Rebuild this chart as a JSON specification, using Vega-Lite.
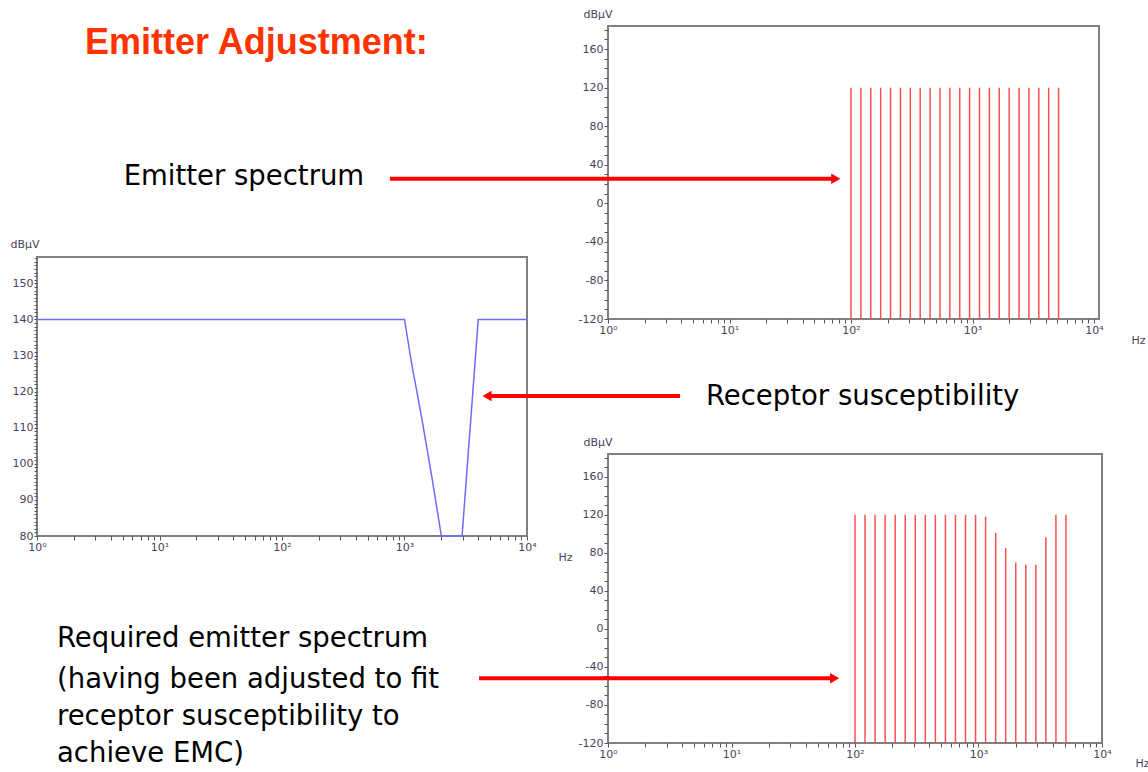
{
  "$schema": "https://vega.github.io/schema/vega-lite/v6.json",
  "background": "white",
  "padding": {"left": 9, "top": 7, "right": 0, "bottom": 0},
  "bounds": "flush",
  "spacing": 571,
  "config": {
    "font": "DejaVu Sans",
    "axis": {
      "domain": false, "grid": false, "tickColor": "#555555", "tickSize": 4, "tickWidth": 1,
      "labelFontSize": 11, "labelColor": "#4a3f5c", "labelPadding": 1,
      "titleFontSize": 11, "titleFontWeight": "normal", "titleColor": "#4a3f5c",
      "labelFlush": false, "labelOverlap": false, "tickCount": 1000
    }
  },
  "datasets": {
    "emitter": [
      {"freq": 100, "level": 120}, {"freq": 120.6, "level": 120}, {"freq": 145.4, "level": 120},
      {"freq": 175.4, "level": 120}, {"freq": 211.5, "level": 120}, {"freq": 255.1, "level": 120},
      {"freq": 307.7, "level": 120}, {"freq": 371.0, "level": 120}, {"freq": 447.5, "level": 120},
      {"freq": 539.7, "level": 120}, {"freq": 650.8, "level": 120}, {"freq": 784.9, "level": 120},
      {"freq": 946.6, "level": 120}, {"freq": 1141.6, "level": 120}, {"freq": 1376.8, "level": 120},
      {"freq": 1660.4, "level": 120}, {"freq": 2002.4, "level": 120}, {"freq": 2414.9, "level": 120},
      {"freq": 2912.4, "level": 120}, {"freq": 3512.4, "level": 120}, {"freq": 4235.9, "level": 120},
      {"freq": 5108.5, "level": 120}
    ],
    "adjusted": [
      {"freq": 100, "level": 120}, {"freq": 120.6, "level": 120}, {"freq": 145.4, "level": 120},
      {"freq": 175.4, "level": 120}, {"freq": 211.5, "level": 120}, {"freq": 255.1, "level": 120},
      {"freq": 307.7, "level": 120}, {"freq": 371.0, "level": 120}, {"freq": 447.5, "level": 120},
      {"freq": 539.7, "level": 120}, {"freq": 650.8, "level": 120}, {"freq": 784.9, "level": 120},
      {"freq": 946.6, "level": 120}, {"freq": 1141.6, "level": 118}, {"freq": 1376.8, "level": 101},
      {"freq": 1660.4, "level": 85}, {"freq": 2002.4, "level": 70}, {"freq": 2414.9, "level": 67.5},
      {"freq": 2912.4, "level": 67.5}, {"freq": 3512.4, "level": 96.5}, {"freq": 4235.9, "level": 120},
      {"freq": 5108.5, "level": 120}
    ],
    "susceptibility": [
      {"freq": 1, "level": 140}, {"freq": 1000, "level": 140}, {"freq": 1141, "level": 128},
      {"freq": 1377, "level": 113}, {"freq": 1660, "level": 97}, {"freq": 2000, "level": 80},
      {"freq": 2950, "level": 80}, {"freq": 4000, "level": 140}, {"freq": 10000, "level": 140}
    ],
    "arrowTop": [{"freq": 0.01606, "freq2": 74.9, "level": 25.5}],
    "labelTop": [{"label": "Emitter spectrum", "freq": 0.0001033, "level": 19.5}],
    "arrowLeft": [{"freq": 4716, "freq2": 177400, "level": 118.8}],
    "labelLeft": [{"label": "Receptor susceptibility", "freq": 289000, "level": 116.3}],
    "arrowBottom": [{"freq": 0.0903, "freq2": 68.4, "level": -52}],
    "labelBottom": [
      {"label": "Required emitter spectrum", "freq": 0.00003455, "level": -19},
      {"label": "(having been adjusted to fit", "freq": 0.00003455, "level": -62},
      {"label": "receptor  susceptibility to", "freq": 0.00003455, "level": -101.5},
      {"label": "achieve EMC)", "freq": 0.00003455, "level": -140}
    ]
  },
  "hconcat": [
    {
      "bounds": "flush",
      "spacing": 20,
      "vconcat": [
        {
          "width": 490, "height": 211,
          "view": {"stroke": null},
          "data": {"values": []},
          "mark": "point"
        },
        {
          "width": 490, "height": 279,
          "view": {"stroke": "#808080", "strokeWidth": 2},
          "title": {
            "text": "Emitter Adjustment:", "anchor": "start", "frame": "group", "offset": 148, "dx": 48,
            "fontSize": 36, "font": "Liberation Sans", "fontWeight": "bold", "color": "#ff3300", "baseline": "alphabetic"
          },
          "layer": [
            {
              "data": {"name": "susceptibility"},
              "mark": {"type": "line", "color": "#6b6bff", "strokeWidth": 1.5},
              "encoding": {
                "x": {"field": "freq", "type": "quantitative",
                  "scale": {"type": "log", "domain": [1, 10000], "nice": false},
                  "axis": {
                    "title": "Hz", "titleX": 521, "titleY": 24, "titleAlign": "left", "titleBaseline": "alphabetic", "titleAngle": 0,
                    "values": [1,2,3,4,5,6,7,8,9,10,20,30,40,50,60,70,80,90,100,200,300,400,500,600,700,800,900,1000,2000,3000,4000,5000,6000,7000,8000,9000,10000],
                    "labelExpr": "abs(log(datum.value)/LN10 - round(log(datum.value)/LN10)) < 0.000001 ? '10' + ['⁰','¹','²','³','⁴'][round(log(datum.value)/LN10)] : ''"
                  }},
                "y": {"field": "level", "type": "quantitative",
                  "scale": {"domain": [80, 157.3], "nice": false, "zero": false},
                  "axis": {
                    "title": "dBµV", "titleX": -27, "titleY": -10, "titleAlign": "left", "titleBaseline": "alphabetic", "titleAngle": 0,
                    "values": [80,81,82,83,84,85,86,87,88,89,90,91,92,93,94,95,96,97,98,99,100,101,102,103,104,105,106,107,108,109,110,111,112,113,114,115,116,117,118,119,120,121,122,123,124,125,126,127,128,129,130,131,132,133,134,135,136,137,138,139,140,141,142,143,144,145,146,147,148,149,150,151,152,153,154,155,156,157],
                    "tickSize": 3, "tickCount": 1000,
                    "labelExpr": "datum.value % 10 == 0 ? '' + datum.value : ''"
                  }}
              }
            },
            {
              "data": {"name": "arrowLeft"},
              "mark": {"type": "rule", "color": "#ff0000", "strokeWidth": 4},
              "encoding": {
                "x": {"field": "freq", "type": "quantitative"},
                "x2": {"field": "freq2"},
                "y": {"field": "level", "type": "quantitative"}
              }
            },
            {
              "data": {"name": "arrowLeft"},
              "mark": {"type": "point", "shape": "triangle-left", "filled": true, "color": "#ff0000", "opacity": 1, "size": 110},
              "encoding": {
                "x": {"field": "freq", "type": "quantitative"},
                "y": {"field": "level", "type": "quantitative"}
              }
            },
            {
              "data": {"name": "labelLeft"},
              "mark": {"type": "text", "align": "left", "baseline": "alphabetic", "fontSize": 27.5, "color": "#000000"},
              "encoding": {
                "x": {"field": "freq", "type": "quantitative"},
                "y": {"field": "level", "type": "quantitative"},
                "text": {"field": "label"}
              }
            }
          ]
        }
      ]
    },
    {
      "bounds": "flush",
      "spacing": 135,
      "vconcat": [
        {
          "width": 491, "height": 293,
          "view": {"stroke": "#808080", "strokeWidth": 2},
          "layer": [
            {
              "data": {"name": "emitter"},
              "mark": {"type": "rule", "color": "#ff4d4d", "strokeWidth": 1.5},
              "encoding": {
                "x": {"field": "freq", "type": "quantitative",
                  "scale": {"type": "log", "domain": [1, 10990], "nice": false},
                  "axis": {
                    "title": "Hz", "titleX": 523, "titleY": 24, "titleAlign": "left", "titleBaseline": "alphabetic", "titleAngle": 0,
                    "values": [1,2,3,4,5,6,7,8,9,10,20,30,40,50,60,70,80,90,100,200,300,400,500,600,700,800,900,1000,2000,3000,4000,5000,6000,7000,8000,9000,10000],
                    "labelExpr": "abs(log(datum.value)/LN10 - round(log(datum.value)/LN10)) < 0.000001 ? '10' + ['⁰','¹','²','³','⁴'][round(log(datum.value)/LN10)] : ''"
                  }},
                "y": {"field": "level", "type": "quantitative",
                  "scale": {"domain": [-120, 184], "nice": false, "zero": false},
                  "axis": {
                    "title": "dBµV", "titleX": -25, "titleY": -9, "titleAlign": "left", "titleBaseline": "alphabetic", "titleAngle": 0,
                    "values": [-120,-110,-100,-90,-80,-70,-60,-50,-40,-30,-20,-10,0,10,20,30,40,50,60,70,80,90,100,110,120,130,140,150,160,170,180],
                    "tickCount": 1000,
                    "labelExpr": "datum.value % 40 == 0 ? '' + datum.value : ''"
                  }},
                "y2": {"datum": -120}
              }
            },
            {
              "data": {"name": "arrowTop"},
              "mark": {"type": "rule", "color": "#ff0000", "strokeWidth": 4},
              "encoding": {
                "x": {"field": "freq", "type": "quantitative"},
                "x2": {"field": "freq2"},
                "y": {"field": "level", "type": "quantitative"}
              }
            },
            {
              "data": {"name": "arrowTop"},
              "mark": {"type": "point", "shape": "triangle-right", "filled": true, "color": "#ff0000", "opacity": 1, "size": 110},
              "encoding": {
                "x": {"field": "freq2", "type": "quantitative"},
                "y": {"field": "level", "type": "quantitative"}
              }
            },
            {
              "data": {"name": "labelTop"},
              "mark": {"type": "text", "align": "left", "baseline": "alphabetic", "fontSize": 27.5, "color": "#000000"},
              "encoding": {
                "x": {"field": "freq", "type": "quantitative"},
                "y": {"field": "level", "type": "quantitative"},
                "text": {"field": "label"}
              }
            }
          ]
        },
        {
          "width": 494, "height": 289,
          "view": {"stroke": "#808080", "strokeWidth": 2},
          "layer": [
            {
              "data": {"name": "adjusted"},
              "mark": {"type": "rule", "color": "#ff4d4d", "strokeWidth": 1.5},
              "encoding": {
                "x": {"field": "freq", "type": "quantitative",
                  "scale": {"type": "log", "domain": [1, 10000], "nice": false},
                  "axis": {
                    "title": "Hz", "titleX": 527, "titleY": 23, "titleAlign": "left", "titleBaseline": "alphabetic", "titleAngle": 0,
                    "values": [1,2,3,4,5,6,7,8,9,10,20,30,40,50,60,70,80,90,100,200,300,400,500,600,700,800,900,1000,2000,3000,4000,5000,6000,7000,8000,9000,10000],
                    "labelExpr": "abs(log(datum.value)/LN10 - round(log(datum.value)/LN10)) < 0.000001 ? '10' + ['⁰','¹','²','³','⁴'][round(log(datum.value)/LN10)] : ''"
                  }},
                "y": {"field": "level", "type": "quantitative",
                  "scale": {"domain": [-120, 184], "nice": false, "zero": false},
                  "axis": {
                    "title": "dBµV", "titleX": -25, "titleY": -9, "titleAlign": "left", "titleBaseline": "alphabetic", "titleAngle": 0,
                    "values": [-120,-110,-100,-90,-80,-70,-60,-50,-40,-30,-20,-10,0,10,20,30,40,50,60,70,80,90,100,110,120,130,140,150,160,170,180],
                    "tickCount": 1000,
                    "labelExpr": "datum.value % 40 == 0 ? '' + datum.value : ''"
                  }},
                "y2": {"datum": -120}
              }
            },
            {
              "data": {"name": "arrowBottom"},
              "mark": {"type": "rule", "color": "#ff0000", "strokeWidth": 4},
              "encoding": {
                "x": {"field": "freq", "type": "quantitative"},
                "x2": {"field": "freq2"},
                "y": {"field": "level", "type": "quantitative"}
              }
            },
            {
              "data": {"name": "arrowBottom"},
              "mark": {"type": "point", "shape": "triangle-right", "filled": true, "color": "#ff0000", "opacity": 1, "size": 110},
              "encoding": {
                "x": {"field": "freq2", "type": "quantitative"},
                "y": {"field": "level", "type": "quantitative"}
              }
            },
            {
              "data": {"name": "labelBottom"},
              "mark": {"type": "text", "align": "left", "baseline": "alphabetic", "fontSize": 27.5, "color": "#000000"},
              "encoding": {
                "x": {"field": "freq", "type": "quantitative"},
                "y": {"field": "level", "type": "quantitative"},
                "text": {"field": "label"}
              }
            }
          ]
        }
      ]
    }
  ]
}
